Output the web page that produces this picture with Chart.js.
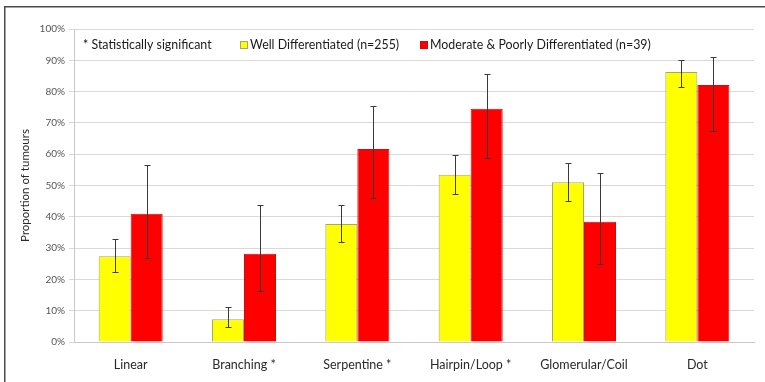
<!DOCTYPE html>
<html>
<head>
<meta charset="utf-8">
<script src="https://cdn.jsdelivr.net/npm/chart.js@4.4.1/dist/chart.umd.min.js"></script>
<style>
  html, body { margin: 0; padding: 0; background: #ffffff; }
  #wrap { width: 765px; height: 382px; }
</style>
</head>
<body>
<div id="wrap"><canvas id="c" width="765" height="382"></canvas></div>
<script>
// Vascular pattern categories (x axis)
const categories = ['Linear', 'Branching *', 'Serpentine *', 'Hairpin/Loop *', 'Glomerular/Coil', 'Dot'];

// Proportion of tumours (%) per pattern
const wellValues = [27.4, 7.3, 37.7, 53.4, 51.0, 86.3];
const wellErrLow = [22.4, 4.9, 31.9, 47.2, 45.2, 81.6];
const wellErrHigh = [33.0, 11.3, 43.8, 59.6, 57.1, 90.2];

const poorValues = [41.0, 28.2, 61.7, 74.5, 38.4, 82.1];
const poorErrLow = [26.9, 16.4, 46.0, 58.9, 25.0, 67.5];
const poorErrHigh = [56.6, 43.8, 75.3, 85.6, 54.1, 91.1];

// Y axis tick values
const yTicks = [0, 10, 20, 30, 40, 50, 60, 70, 80, 90, 100];

const seriesLabels = ['Well Differentiated (n=255)', 'Moderate & Poorly Differentiated (n=39)'];
const noteText = '* Statistically significant';

const FONT = 'Lato, "Open Sans", sans-serif';

// Outer frame line (left and top edges are visible)
const framePlugin = {
  id: 'frame',
  beforeDraw(chart) {
    const ctx = chart.ctx;
    ctx.save();
    ctx.fillStyle = '#ffffff';
    ctx.fillRect(0, 0, chart.width, chart.height);
    ctx.strokeStyle = '#4a4a4a';
    ctx.lineWidth = 1.5;
    ctx.strokeRect(4.75, 6.75, 900, 500);
    ctx.restore();
  }
};

// Confidence-interval whiskers on every bar
const errorBarPlugin = {
  id: 'errorBars',
  afterDatasetsDraw(chart) {
    const ctx = chart.ctx;
    const y = chart.scales.y;
    const ranges = [[wellErrLow, wellErrHigh], [poorErrLow, poorErrHigh]];
    ctx.save();
    ctx.strokeStyle = '#3a3a3a';
    ctx.lineWidth = 1;
    chart.data.datasets.forEach((ds, di) => {
      const meta = chart.getDatasetMeta(di);
      meta.data.forEach((bar, i) => {
        const x = Math.round(bar.x) + 0.5;
        const yl = Math.round(y.getPixelForValue(ranges[di][0][i])) + 0.5;
        const yh = Math.round(y.getPixelForValue(ranges[di][1][i])) + 0.5;
        ctx.beginPath();
        ctx.moveTo(x, yh); ctx.lineTo(x, yl);
        ctx.moveTo(x - 3, yh); ctx.lineTo(x + 3, yh);
        ctx.moveTo(x - 3, yl); ctx.lineTo(x + 3, yl);
        ctx.stroke();
      });
    });
    ctx.restore();
  }
};

// Legend row inside the plot area, under the 100% line
const legendPlugin = {
  id: 'insideLegend',
  afterDraw(chart) {
    const ctx = chart.ctx;
    ctx.save();
    ctx.font = '12.4px ' + FONT;
    ctx.fillStyle = '#1a1a1a';
    ctx.textBaseline = 'middle';
    const yMid = 45;
    ctx.fillText(noteText, 83, yMid);
    const starts = [240, 420];
    chart.data.datasets.forEach((ds, i) => {
      const bx = starts[i];
      ctx.fillStyle = ds.backgroundColor;
      ctx.fillRect(bx, yMid - 3.5, 7, 7);
      ctx.strokeStyle = ds.borderColor;
      ctx.lineWidth = 1;
      ctx.strokeRect(bx + 0.5, yMid - 3.5, 7, 7);
      ctx.fillStyle = '#1a1a1a';
      ctx.fillText(seriesLabels[i], bx + 10, yMid);
    });
    ctx.restore();
  }
};

new Chart(document.getElementById('c'), {
  type: 'bar',
  data: {
    labels: categories,
    datasets: [
      {
        label: seriesLabels[0],
        data: wellValues,
        backgroundColor: '#ffff00',
        borderColor: '#a6a66a',
        borderWidth: 1,
        barPercentage: 1.0,
        categoryPercentage: 0.565
      },
      {
        label: seriesLabels[1],
        data: poorValues,
        backgroundColor: '#ff0000',
        borderColor: '#c81010',
        borderWidth: 1,
        barPercentage: 1.0,
        categoryPercentage: 0.565
      }
    ]
  },
  options: {
    responsive: false,
    animation: false,
    devicePixelRatio: 1,
    layout: { padding: { top: 29, right: 11, bottom: 0, left: 0 } },
    plugins: {
      legend: { display: false },
      tooltip: { enabled: false }
    },
    scales: {
      x: {
        grid: { display: false, drawTicks: false },
        border: { display: true, color: '#c8c8c8', width: 1 },
        ticks: {
          padding: 15,
          color: '#2a2a2a',
          font: { family: FONT, size: 12.5 }
        },
        afterFit(scale) { scale.height = 40; }
      },
      y: {
        min: 0,
        max: 100,
        afterBuildTicks(scale) { scale.ticks = yTicks.map(v => ({ value: v })); },
        grid: { color: '#d9d9d9', lineWidth: 1, tickLength: 5, drawTicks: true },
        border: { display: true, color: '#c8c8c8', width: 1 },
        ticks: {
          padding: 4,
          color: '#555555',
          font: { family: FONT, size: 10 },
          callback: v => v + '%'
        },
        title: {
          display: true,
          text: 'Proportion of tumours',
          color: '#2a2a2a',
          font: { family: FONT, size: 11.5 },
          padding: { top: 18, bottom: 0 }
        },
        afterFit(scale) { scale.width = 74; }
      }
    }
  },
  plugins: [framePlugin, errorBarPlugin, legendPlugin]
});
</script>
</body>
</html>
